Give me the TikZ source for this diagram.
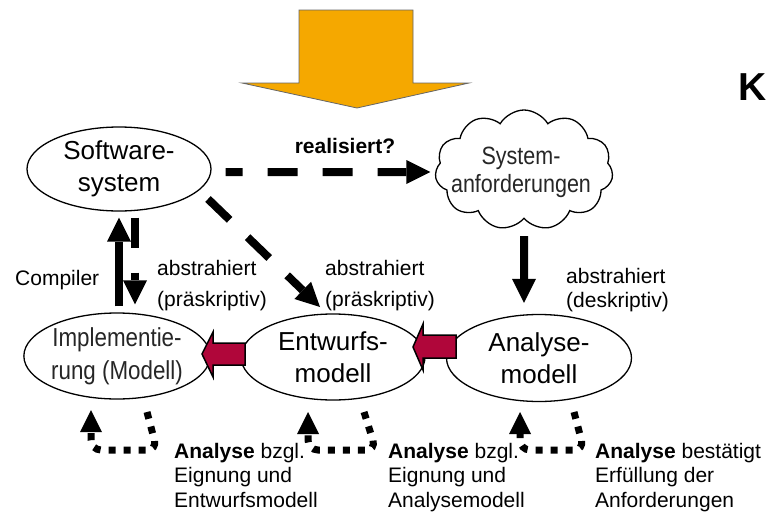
\documentclass[tikz,border=0pt]{standalone}
\usepackage{fontspec}
\setmainfont{Liberation Sans}
\newfontfamily\narrowfont[FakeStretch=0.86]{Liberation Sans}
\usetikzlibrary{shapes.geometric,shapes.symbols,arrows.meta,calc}

\definecolor{blockred}{HTML}{B0063A}
\definecolor{bigorange}{HTML}{F5A800}

\begin{document}
\begin{tikzpicture}[x=1pt,y=-1pt,
  model/.style={ellipse,draw,line width=1.3pt,fill=white,inner sep=0pt,align=center,
    font=\fontsize{26}{32}\selectfont},
  narrowmodel/.style={model,text=black!85,font=\narrowfont\fontsize{26}{33}\selectfont},
  label/.style={inner sep=0pt,align=left,font=\fontsize{21}{31}\selectfont},
  notelabel/.style={inner sep=0pt,align=left,font=\fontsize{21}{24.5}\selectfont},
  thickarrow/.style={line width=8pt,-{Triangle[length=24pt,width=24pt,line width=0pt]}},
  dashedarrow/.style={thickarrow,dash pattern=on 30pt off 25pt},
  dottedarrow/.style={line width=7pt,dash pattern=on 7pt off 8pt,rounded corners=10pt,
    -{Triangle[length=22pt,width=22pt,line width=0pt]}},
  blockarrow/.style={fill=blockred,draw=black,line width=1.5pt,line join=miter},
]
\fill[white] (0,0) rectangle (766,514);
\useasboundingbox (0,0) rectangle (766,514);

% big input arrow on top
\filldraw[fill=bigorange,draw=black!60,line width=0.8pt]
  (299,10) -- (413,10) -- (413,83) -- (469,83) -- (357,108) -- (242,83) -- (299,83) -- cycle;

\node[font=\bfseries\fontsize{39}{44}\selectfont,anchor=base west,inner sep=0pt] (k) at (738,100) {K};

% models
\node[model,minimum width=184pt,minimum height=84pt] (sw) at (119,169) {Software-\\system};
\node[cloud,draw,line width=1.3pt,fill=white,cloud puffs=11,cloud puff arc=120,
  cloud ignores aspect,minimum width=178pt,minimum height=120pt,inner sep=0pt] (cl) at (524,170) {};
\node[inner sep=0pt,align=center,text=black!85,font=\narrowfont\fontsize{25}{28}\selectfont]
  (cltext) at (521,172) {System-\\anforderungen};
\node[narrowmodel,minimum width=186pt,minimum height=86pt] (impl) at (117,356) {Implementie-\\rung (Modell)};
\node[model,minimum width=184pt,minimum height=86pt] (entw) at (333,357) {Entwurfs-\\modell};
\node[model,minimum width=185pt,minimum height=87pt] (anal) at (539,358) {Analyse-\\modell};

% relations between the models
\draw[dashedarrow,dash phase=13pt] ($(sw.east)+(14,3)$) -- ($(cl.west)+(-5,2)$);
\node[font=\bfseries\fontsize{21}{25}\selectfont,anchor=base,inner sep=0pt] (real) at (345,153) {realisiert?};

\draw[dashedarrow] ($(sw)+(89,30)$) -- ($(entw)+(-13,-50)$);
\draw[thickarrow] ($(impl.north)+(2,-6)$) -- ($(sw.south)+(0,6)$);
\draw[dashedarrow] ($(sw.south)+(16,6)$) -- ($(impl.north)+(18,-8)$);
\draw[thickarrow] ($(cl.south)+(0,17)$) -- ($(anal.north)+(-15,-11)$);

% the base anchor of a multi-line label sits on its last line
\node[label,anchor=base west] (comp) at (15,285) {Compiler};
\node[label,anchor=base west] (abs1) at (157,306) {abstrahiert\\(präskriptiv)};
\node[label,anchor=base west] (abs2) at (325,306) {abstrahiert\\(präskriptiv)};
\node[label,anchor=base west,font=\fontsize{21}{24}\selectfont] (abs3) at (566,307) {abstrahiert\\(deskriptiv)};

% refinement block arrows
\draw[blockarrow] (245,343) -- (213,343) -- (213,332) -- (202,354) -- (213,377) -- (213,365) -- (245,365) -- cycle;
\draw[blockarrow] (456,335) -- (423,335) -- (423,324) -- (413,347) -- (423,370) -- (423,358) -- (456,358) -- cycle;

% analysis loops below the models
\draw[dottedarrow] ($(impl)+(30,56)$) -- ($(impl)+(40,94)$) -- ($(impl)+(-26,94)$) -- ($(impl)+(-26,54)$);
\draw[dottedarrow] ($(entw)+(31,55)$) -- ($(entw)+(43,93)$) -- ($(entw)+(-25,93)$) -- ($(entw)+(-25,55)$);
\draw[dottedarrow] ($(anal)+(35,54)$) -- ($(anal)+(45,92)$) -- ($(anal)+(-19,92)$) -- ($(anal)+(-19,54)$);

\node[notelabel,anchor=base west] (n1) at (174,507) {\textbf{Analyse} bzgl.\\Eignung und\\Entwurfsmodell};
\node[notelabel,anchor=base west] (n2) at (388,507) {\textbf{Analyse} bzgl.\\Eignung und\\Analysemodell};
\node[notelabel,anchor=base west] (n3) at (595,507) {\textbf{Analyse} bestätigt\\Erfüllung der\\Anforderungen};
\end{tikzpicture}
\end{document}
